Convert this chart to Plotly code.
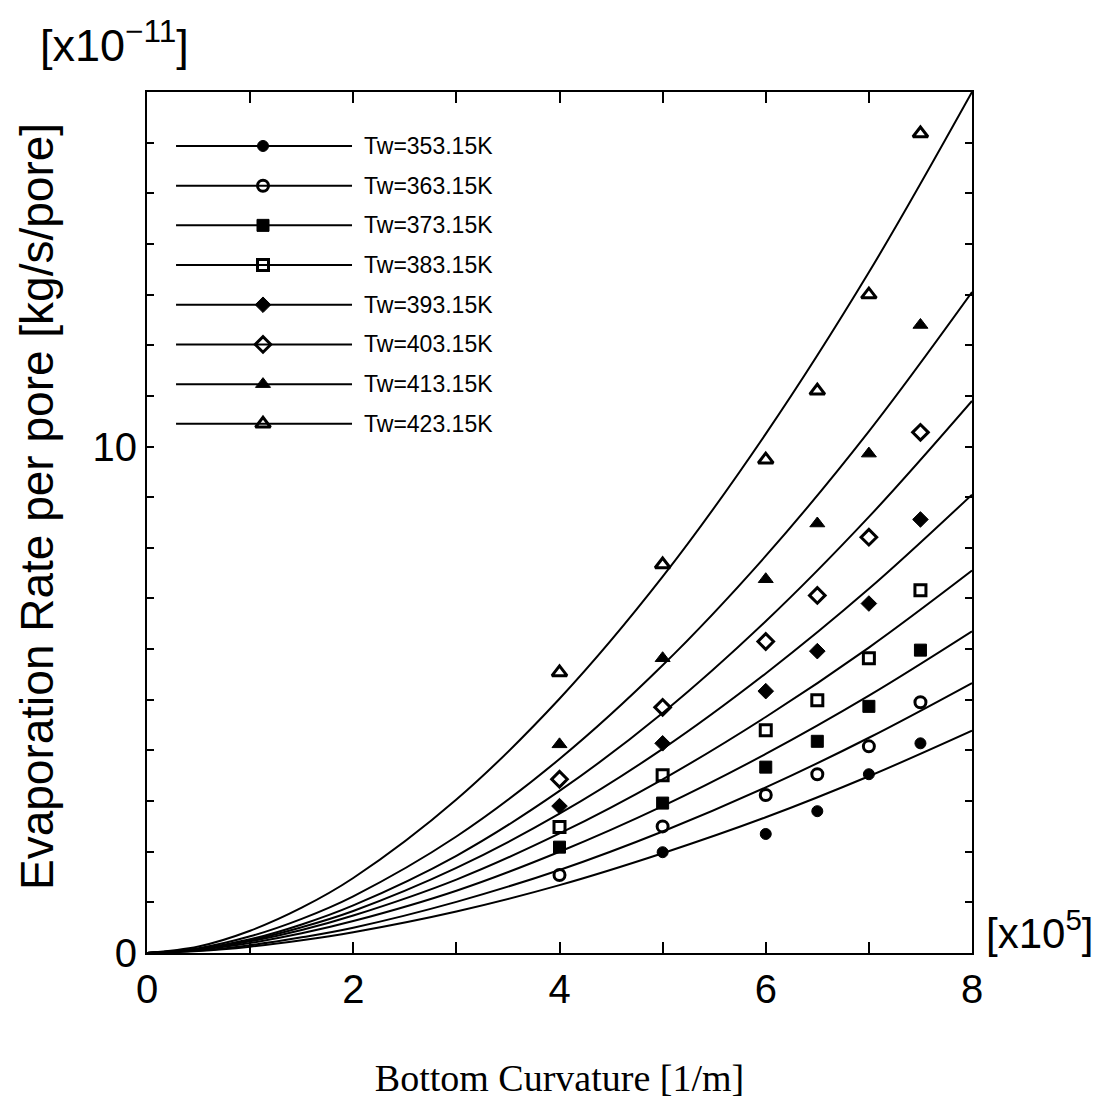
import plotly.graph_objects as go

# ---------------- data ----------------
temps = ["353.15", "363.15", "373.15", "383.15", "393.15", "403.15", "413.15", "423.15"]

# fitted curves (x in 1e5 1/m, y in 1e-11 kg/s/pore)
curve_x = [0, 0.5, 1, 1.5, 2, 3, 4, 5, 6, 7, 8]
curve_353 = [0, 0.038, 0.125, 0.251, 0.41, 0.82, 1.34, 1.97, 2.68, 3.49, 4.39]
curve_363 = [0, 0.048, 0.155, 0.310, 0.50, 1.01, 1.64, 2.40, 3.27, 4.25, 5.33]
curve_373 = [0, 0.062, 0.197, 0.388, 0.63, 1.23, 2.00, 2.90, 3.93, 5.08, 6.35]
curve_383 = [0, 0.072, 0.23, 0.454, 0.74, 1.45, 2.36, 3.43, 4.66, 6.03, 7.55]
curve_393 = [0, 0.077, 0.25, 0.509, 0.83, 1.68, 2.75, 4.03, 5.52, 7.19, 9.05]
curve_403 = [0, 0.081, 0.27, 0.564, 0.94, 1.92, 3.20, 4.74, 6.55, 8.61, 10.9]
curve_413 = [0, 0.096, 0.33, 0.675, 1.12, 2.30, 3.83, 5.68, 7.84, 10.30, 13.05]
curve_423 = [0, 0.129, 0.44, 0.894, 1.48, 3.03, 5.02, 7.43, 10.25, 13.44, 17.0]

# measured points
pts_x = [4, 5, 6, 6.5, 7, 7.5]
pts_353 = [None, 1.99, 2.35, 2.80, 3.53, 4.14]
pts_363 = [1.54, 2.50, 3.12, 3.53, 4.08, 4.95]
pts_373 = [2.09, 2.96, 3.67, 4.18, 4.87, 5.98]
pts_383 = [2.49, 3.51, 4.40, 4.99, 5.82, 7.16]
pts_393 = [2.90, 4.14, 5.17, 5.96, 6.90, 8.56]
pts_403 = [3.43, 4.85, 6.15, 7.06, 8.21, 10.28]
pts_413 = [4.12, 5.82, 7.38, 8.48, 9.86, 12.40]
pts_423 = [5.54, 7.67, 9.74, 11.10, 13.00, 16.18]

curves = [curve_353, curve_363, curve_373, curve_383, curve_393, curve_403, curve_413, curve_423]
points = [pts_353, pts_363, pts_373, pts_383, pts_393, pts_403, pts_413, pts_423]

# ---------------- styles ----------------
symbols = ["circle", "circle-open", "square", "square-open",
           "diamond", "diamond-open", "triangle-up", "triangle-up-open"]
sizes = [11, 11, 12, 11, 12, 12, 13, 13]


def marker_style(i):
    return dict(symbol=symbols[i], size=sizes[i], color="black",
                line=dict(color="black", width=3 if "open" in symbols[i] else 1))


fig = go.Figure()

for i, t in enumerate(temps):
    fig.add_trace(go.Scatter(
        x=curve_x, y=curves[i], mode="lines",
        line=dict(color="black", width=2, shape="spline", smoothing=1.0),
        showlegend=False, hoverinfo="skip"))
    fig.add_trace(go.Scatter(
        x=pts_x, y=points[i], mode="markers", marker=marker_style(i),
        showlegend=False, name="Tw=" + t + "K"))

# ---------------- custom legend (drawn on overlay axes 0..1) ----------------
leg_x0, leg_x1, leg_xm, leg_tx = 0.0352, 0.2485, 0.1406, 0.2606
leg_top, leg_step = 0.9373, 0.0461
for i, t in enumerate(temps):
    yy = leg_top - i * leg_step
    fig.add_trace(go.Scatter(
        x=[leg_x0, leg_x1], y=[yy, yy], mode="lines", xaxis="x2", yaxis="y2",
        line=dict(color="black", width=2), showlegend=False, hoverinfo="skip"))
    fig.add_trace(go.Scatter(
        x=[leg_xm], y=[yy], mode="markers", xaxis="x2", yaxis="y2",
        marker=marker_style(i), showlegend=False, hoverinfo="skip"))
    fig.add_annotation(x=leg_tx, y=yy, xref="paper", yref="paper", text="Tw=" + t + "K",
                       showarrow=False, xanchor="left", yanchor="middle",
                       font=dict(family="Liberation Sans, Arial", size=23, color="black"))

axis_font = dict(family="Liberation Sans, Arial", size=40, color="black")

fig.update_layout(
    width=1102, height=1099,
    margin=dict(l=147, r=130, t=92, b=146, autoexpand=False),
    paper_bgcolor="white", plot_bgcolor="white",
    showlegend=False,
    xaxis=dict(range=[0, 8], dtick=2, tick0=0, ticks="inside", ticklen=11, tickwidth=2,
               tickcolor="black", showline=True, linewidth=2, linecolor="black",
               mirror="allticks", showgrid=False, zeroline=False, automargin=False,
               tickfont=axis_font,
               minor=dict(dtick=1, ticks="inside", ticklen=11, tickwidth=2, tickcolor="black", showgrid=False),
               title=dict(text="Bottom Curvature [1/m]", standoff=56,
                          font=dict(family="Liberation Serif, Times New Roman", size=38, color="black"))),
    yaxis=dict(range=[0, 17], dtick=10, tick0=0, ticks="inside", ticklen=7, tickwidth=2,
               tickcolor="black", showline=True, linewidth=2, linecolor="black",
               mirror="allticks", showgrid=False, zeroline=False, automargin=False,
               tickfont=axis_font,
               minor=dict(dtick=1, ticks="inside", ticklen=7, tickwidth=2, tickcolor="black", showgrid=False)),
    xaxis2=dict(overlaying="x", range=[0, 1], visible=False),
    yaxis2=dict(overlaying="y", range=[0, 1], visible=False),
)

fig.add_annotation(x=-0.1333, y=0.518, xref="paper", yref="paper",
                   text="Evaporation Rate per pore [kg/s/pore]", textangle=-90,
                   showarrow=False, xanchor="center", yanchor="middle",
                   font=dict(family="Liberation Sans, Arial", size=46, color="black"))
fig.add_annotation(x=-0.04, y=1.058, xref="paper", yref="paper",
                   text="[x10<sup>\u221211</sup>]", showarrow=False,
                   xanchor="center", yanchor="middle",
                   font=dict(family="Liberation Sans, Arial", size=45, color="black"))
fig.add_annotation(x=1.0824, y=0.0267, xref="paper", yref="paper",
                   text="[x10<sup>5</sup>]", showarrow=False,
                   xanchor="center", yanchor="middle",
                   font=dict(family="Liberation Sans, Arial", size=42, color="black"))

fig.write_html("out.html")
